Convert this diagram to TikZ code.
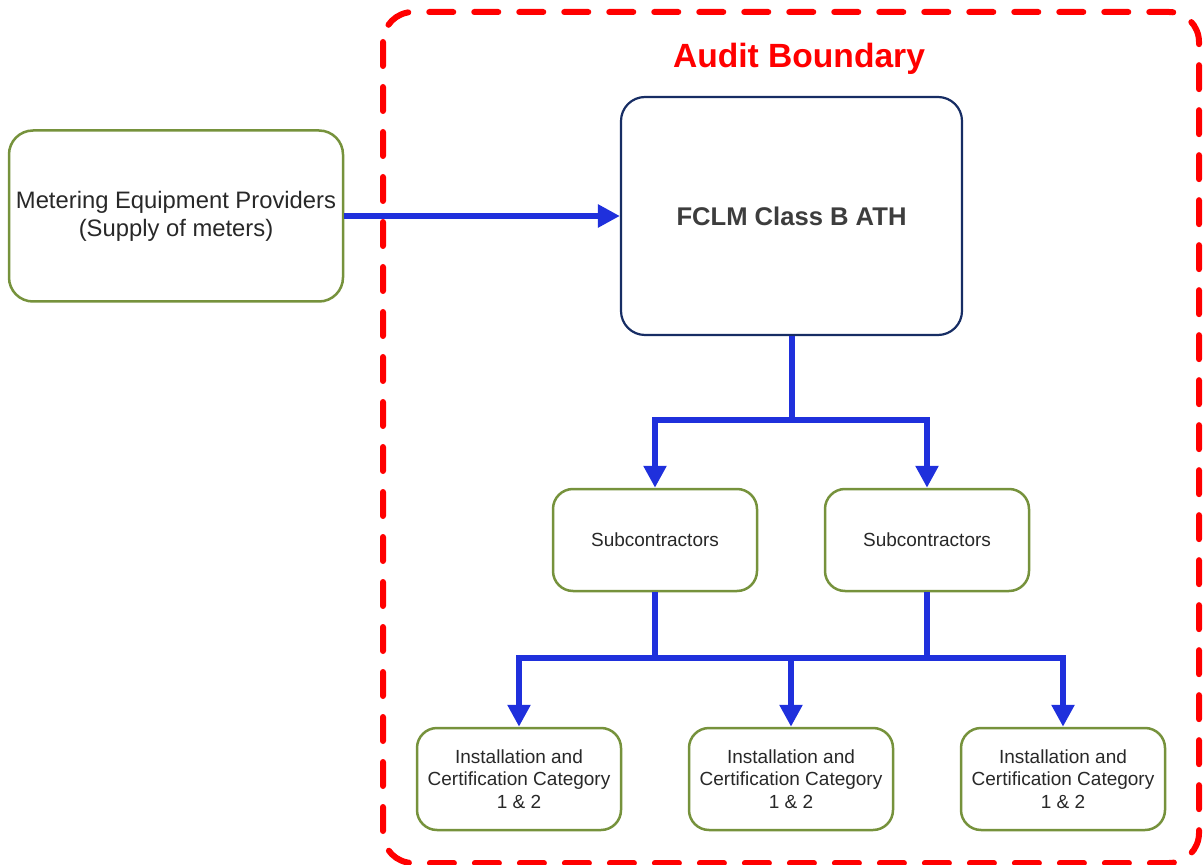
\documentclass[tikz,border=0pt]{standalone}
\usepackage{fontspec}
\setmainfont{Liberation Sans}
\usepackage{tikz}
\usetikzlibrary{arrows.meta, calc, positioning}

\definecolor{linkblue}{RGB}{31,48,220}
\definecolor{boxgreen}{RGB}{118,146,60}
\definecolor{boxnavy}{RGB}{23,45,100}
\definecolor{textgray}{RGB}{40,40,40}

\tikzset{
	greenbox/.style={draw=boxgreen, line width=1.25pt, rounded corners=10pt, fill=white, align=center, text=textgray},
	navybox/.style={draw=boxnavy, line width=1.1pt, rounded corners=12pt, fill=white, align=center, text=textgray!90},
	link/.style={draw=linkblue, line width=3pt},
	boundary/.style={draw=red, line width=3pt, line cap=round, dash pattern=on 12pt off 10.5pt, rounded corners=15pt}
}

\begin{document}
\begin{tikzpicture}[x=0.5pt, y=-0.5pt, >={Triangle[width=11pt,length=11pt]}]
		\useasboundingbox (0,0) rectangle (1203,865);
		% audit boundary
		\draw[boundary] (383,12) rectangle (1199,863);
		\node[text=red, font=\bfseries\fontsize{16.8}{20}\selectfont] (audit) at (799,59) {Audit Boundary};

		% boxes
		\node[greenbox, rounded corners=12pt, minimum width=167pt, minimum height=85.5pt, font=\fontsize{11.9}{14}\selectfont] (meter) at (176,216) {Metering Equipment Providers\\(Supply of meters)};
		\node[navybox, minimum width=170.5pt, minimum height=119pt, font=\bfseries\fontsize{12.8}{15}\selectfont] (fclm) at (791.5,216) {FCLM Class B ATH};
		\node[greenbox, minimum width=102pt, minimum height=51pt, font=\fontsize{9.5}{11}\selectfont] (subA) at (655,540) {Subcontractors};
		\node[greenbox, minimum width=102pt, minimum height=51pt, font=\fontsize{9.5}{11}\selectfont] (subB) at (927,540) {Subcontractors};
		\node[greenbox, minimum width=102pt, minimum height=51pt, font=\fontsize{9.5}{11.25}\selectfont] (instA) at (519,779) {Installation and\\Certification Category\\1 \& 2};
		\node[greenbox, minimum width=102pt, minimum height=51pt, font=\fontsize{9.5}{11.25}\selectfont] (instB) at (791,779) {Installation and\\Certification Category\\1 \& 2};
		\node[greenbox, minimum width=102pt, minimum height=51pt, font=\fontsize{9.5}{11.25}\selectfont] (instC) at (1063,779) {Installation and\\Certification Category\\1 \& 2};

		% connectors
		\coordinate (split) at (791.5,420);
		\coordinate (bus) at (791,658);
		\draw[link, ->] (meter.east) -- (fclm.west);
		\draw[link] (fclm.south) -- (split);
		\draw[link, ->] (split) -| (subA.north);
		\draw[link, ->] (split) -| (subB.north);
		\draw[link] (subA.south) -- (subA.south |- bus);
		\draw[link] (subB.south) -- (subB.south |- bus);
		\draw[link, ->] (bus) -| (instA.north);
		\draw[link, ->] (bus) -| (instC.north);
		\draw[link, ->] (bus) -- (instB.north);
\end{tikzpicture}
\end{document}
